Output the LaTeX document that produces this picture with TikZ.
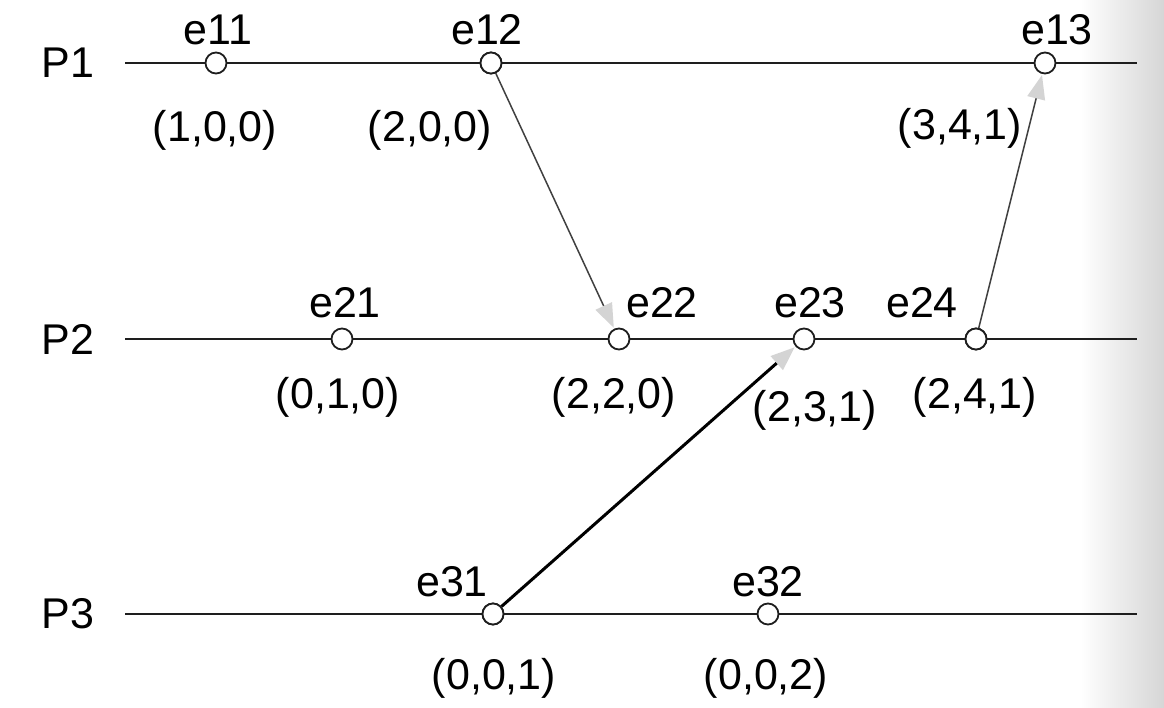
\documentclass[tikz,border=0pt]{standalone}
\usepackage{fontspec}
\setmainfont{Liberation Sans}
\usetikzlibrary{arrows.meta}
\definecolor{edgegray}{RGB}{214,214,214}
\definecolor{tipgray}{RGB}{212,212,212}
\definecolor{ink}{RGB}{30,30,30}
\begin{document}
\begin{tikzpicture}[x=1pt,y=-1pt,
  txt/.style={font=\fontsize{43}{49}\selectfont, inner sep=0pt, text=black},
  proc/.style={line width=2.2pt, draw=ink},
  ev/.style={circle, draw=ink, line width=1.8pt, fill=white, minimum size=21pt, inner sep=0pt},
  msg/.style={draw=ink!85, line width=1.5pt, -{Triangle[length=24pt,width=18pt,fill=tipgray,color=tipgray]}, shorten >=1pt},
  msgthick/.style={msg, line width=3pt, draw=black}
]
\useasboundingbox (0,0) rectangle (1164,708);
\fill[white] (0,0) rectangle (1164,708);
\shade[left color=white, right color=edgegray] (1080,0) rectangle (1164,708);

% process lines
\coordinate (p1s) at (125,63); \coordinate (p1e) at (1137,63);
\coordinate (p2s) at (125,339); \coordinate (p2e) at (1137,339);
\coordinate (p3s) at (125,614); \coordinate (p3e) at (1137,614);
\draw[proc] (p1s) -- (p1e);
\draw[proc] (p2s) -- (p2e);
\draw[proc] (p3s) -- (p3e);

\node[txt] (P1) at (68,63) {P1};
\node[txt] (P2) at (68,339) {P2};
\node[txt] (P3) at (68,614) {P3};

% events
\node[ev] (e11) at (216,63) {};
\node[ev] (e12) at (491,63) {};
\node[ev] (e13) at (1045,63) {};
\node[ev] (e21) at (342,339) {};
\node[ev] (e22) at (619,339) {};
\node[ev] (e23) at (804,339) {};
\node[ev] (e24) at (976,339) {};
\node[ev] (e31) at (493,614) {};
\node[ev] (e32) at (768,614) {};

% messages
\draw[msg] (e12) -- (e22);
\draw[msgthick] (e31) -- (e23);
\draw[msg] (e24) -- (e13);

% redraw circles on top of lines
\node[ev] at (e12) {};
\node[ev] at (e31) {};
\node[ev] at (e24) {};

% labels
\node[txt] (l11) at (218,30) {e11};
\node[txt] (l12) at (487,30) {e12};
\node[txt] (l13) at (1057,30) {e13};
\node[txt] (v11) at (215,130) {(1,0,0)};
\node[txt] (v12) at (430,130) {(2,0,0)};
\node[txt] (v13) at (960,128) {(3,4,1)};

\node[txt] (l21) at (345,303) {e21};
\node[txt] (l22) at (662,303) {e22};
\node[txt] (l23) at (810,303) {e23};
\node[txt] (l24) at (922,303) {e24};
\node[txt] (v21) at (338,397) {(0,1,0)};
\node[txt] (v22) at (614,397) {(2,2,0)};
\node[txt] (v23) at (815,410) {(2,3,1)};
\node[txt] (v24) at (975,397) {(2,4,1)};

\node[txt] (l31) at (452,582) {e31};
\node[txt] (l32) at (768,582) {e32};
\node[txt] (v31) at (494,678) {(0,0,1)};
\node[txt] (v32) at (766,678) {(0,0,2)};
\end{tikzpicture}
\end{document}
